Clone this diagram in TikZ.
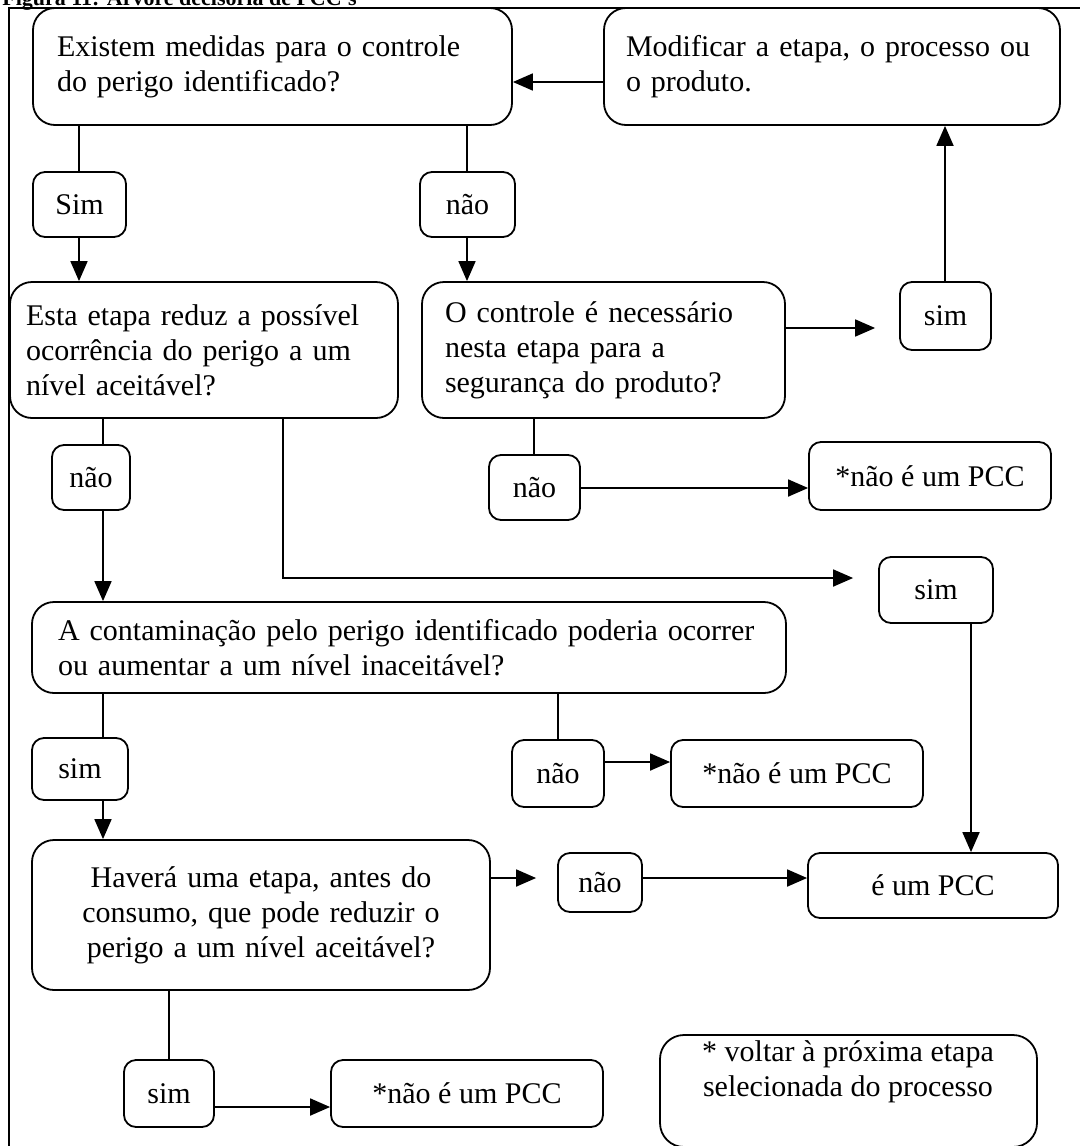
\documentclass[tikz,border=0pt]{standalone}
\usepackage{fontspec}
\setmainfont{Liberation Serif}
\usetikzlibrary{arrows.meta}

% a box given by its corners (in px of the drawing grid)
\newcommand\flowbox[7][]{%
  \pgfmathsetmacro\bxw{(#5-#3)*0.5}%
  \pgfmathsetmacro\bxh{(#6-#4)*0.5}%
  \node[#1, minimum width=\bxw pt, minimum height=\bxh pt] (#2) at ({(#3+#5)/2},{(#4+#6)/2}) {#7};}

\begin{document}
\begin{tikzpicture}[x=0.5pt,y=-0.5pt,
  every node/.style={font=\fontsize{15}{17.5}\selectfont, inner sep=0pt},
  box/.style={draw, line width=0.9pt, rounded corners=11pt},
  tag/.style={draw, line width=0.9pt, rounded corners=6pt},
  link/.style={line width=0.9pt},
  arr/.style={line width=0.9pt, -{Triangle[length=10pt,width=8.5pt]}},
]
\useasboundingbox (0,0) rectangle (1080,1146);

% heading (mostly above the page edge) and frame
\node[font=\bfseries\fontsize{11}{13}\selectfont, anchor=base west] (title) at (2,5) {Figura 11: Árvore decisória de PCC's};
\draw[link] (9,1200) -- (9,8) -- (1120,8);

% questions
\flowbox[box, text width=215.5pt, align=left]{b1}{33}{8}{512}{125}{Existem medidas para o controle\\do perigo identificado?}
\flowbox[box, text width=206pt, align=left]{b2}{604}{8}{1060}{125}{Modificar a etapa, o processo ou\\o produto.}
\flowbox[box, text width=178pt, align=left]{b3}{10}{282}{398}{418}{Esta etapa reduz a possível\\ocorrência do perigo a um\\nível aceitável?}
\flowbox[box, text width=158.5pt, align=left]{b4}{422}{282}{785}{418}{O controle é necessário\\nesta etapa para a\\segurança do produto?}
\flowbox[box, text width=351pt, align=left]{b5}{32}{602}{786}{693}{A contaminação pelo perigo identificado poderia ocorrer\\ou aumentar a um nível inaceitável?}
\flowbox[box, text width=209pt, align=center]{b6}{32}{840}{490}{990}{Haverá uma etapa, antes do\\consumo, que pode reduzir o\\perigo a um nível aceitável?}

% answers
\flowbox[tag]{s1}{33}{172}{126}{237}{Sim}
\flowbox[tag]{n1}{420}{172}{515}{237}{não}
\flowbox[tag]{s2}{900}{282}{991}{350}{sim}
\flowbox[tag]{n3}{52}{445}{130}{510}{não}
\flowbox[tag]{n2}{489}{455}{580}{520}{não}
\flowbox[tag]{s4}{879}{557}{993}{623}{sim}
\flowbox[tag]{s5}{32}{738}{128}{800}{sim}
\flowbox[tag]{n5}{512}{740}{604}{807}{não}
\flowbox[tag]{n6}{558}{853}{642}{912}{não}
\flowbox[tag]{s6}{124}{1060}{214}{1127}{sim}

% outcomes
\flowbox[tag]{p1}{809}{442}{1051}{510}{*não é um PCC}
\flowbox[tag]{p2}{671}{740}{923}{807}{*não é um PCC}
\flowbox[tag]{e1}{808}{853}{1058}{918}{é um PCC}
\flowbox[tag]{p3}{331}{1060}{603}{1127}{*não é um PCC}

% footnote
\flowbox[box, rounded corners=12pt]{nt}{660}{1035}{1037}{1147}{}
\node[align=center] (ntx) at (848,1072) {* voltar à próxima etapa\\selecionada do processo};

% guide lines for the connectors
\coordinate (ya) at (0,82);
\coordinate (yb) at (0,328);
\coordinate (yc) at (0,488);
\coordinate (yd) at (0,578);
\coordinate (ye) at (0,762);
\coordinate (yf) at (0,878);
\coordinate (yg) at (0,1107);
\coordinate (xa) at (79,0);
\coordinate (xb) at (467,0);
\coordinate (xc) at (945,0);
\coordinate (xd) at (534,0);
\coordinate (xe) at (283,0);
\coordinate (xf) at (971,0);
\coordinate (xg) at (103,0);
\coordinate (xh) at (558,0);
\coordinate (xi) at (169,0);

% connectors
\draw[arr] (b2.west |- ya) -- (b1.east |- ya);
\draw[link] (b1.south -| xa) -- (s1.north -| xa);
\draw[arr] (s1.south -| xa) -- (b3.north -| xa);
\draw[link] (b1.south -| xb) -- (n1.north -| xb);
\draw[arr] (n1.south -| xb) -- (b4.north -| xb);
\draw[arr, shorten >=12pt] (b4.east |- yb) -- (s2.west |- yb);
\draw[arr] (s2.north -| xc) -- (b2.south -| xc);
\draw[link] (b4.south -| xd) -- (n2.north -| xd);
\draw[arr] (n2.east |- yc) -- (p1.west |- yc);
\draw[arr, shorten >=12.5pt] (b3.south -| xe) |- (s4.west |- yd);
\draw[arr] (s4.south -| xf) -- (e1.north -| xf);
\draw[link] (b3.south -| xg) -- (n3.north -| xg);
\draw[arr] (n3.south -| xg) -- (b5.north -| xg);
\draw[link] (b5.south -| xg) -- (s5.north -| xg);
\draw[arr] (s5.south -| xg) -- (b6.north -| xg);
\draw[link] (b5.south -| xh) -- (n5.north -| xh);
\draw[arr] (n5.east |- ye) -- (p2.west |- ye);
\draw[arr, shorten >=10.5pt] (b6.east |- yf) -- (n6.west |- yf);
\draw[arr] (n6.east |- yf) -- (e1.west |- yf);
\draw[link] (b6.south -| xi) -- (s6.north -| xi);
\draw[arr] (s6.east |- yg) -- (p3.west |- yg);
\end{tikzpicture}
\end{document}
